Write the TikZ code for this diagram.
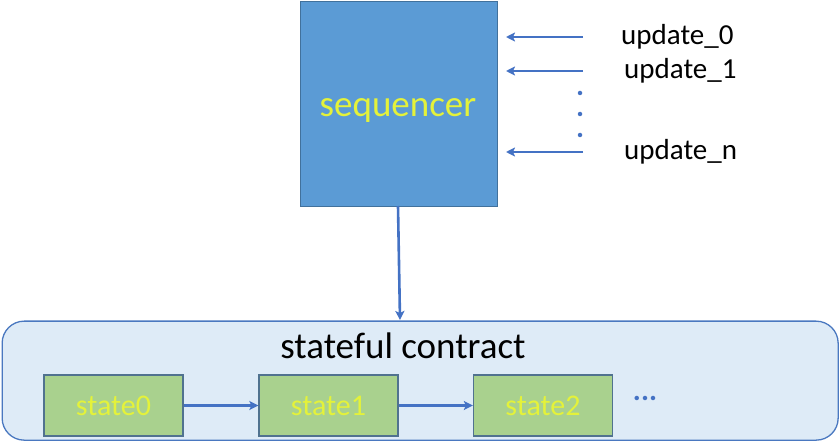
\documentclass[tikz,border=0pt]{standalone}
\usepackage{fontspec}
\setmainfont{Carlito}
\usetikzlibrary{arrows.meta}
\definecolor{seqfill}{HTML}{5B9BD5}
\definecolor{seqborder}{HTML}{41719C}
\definecolor{ytext}{RGB}{228,242,58}
\definecolor{arrowblue}{HTML}{4472C4}
\definecolor{contfill}{HTML}{DEEBF7}
\definecolor{contborder}{HTML}{4A78C0}
\definecolor{stfill}{HTML}{A9D18E}
\definecolor{stborder}{HTML}{50728F}
\tikzset{
  seqbox/.style={draw=seqborder, fill=seqfill, line width=1.4pt},
  statebox/.style={draw=stborder, fill=stfill, line width=1.3pt, minimum width=139pt, minimum height=61pt, inner sep=0pt, text=ytext, font=\fontsize{30}{36}\selectfont},
  conn/.style={draw=arrowblue, line width=2.6pt, -{Stealth[length=9pt,width=9pt,inset=2pt]}},
  updlabel/.style={font=\fontsize{29}{34}\selectfont, text=black, inner sep=0pt},
  bluedot/.style={circle, fill=arrowblue, inner sep=0pt, minimum size=4.5pt}
}
\begin{document}
\begin{tikzpicture}[x=1pt,y=-1pt]
\useasboundingbox (0,0) rectangle (840,443);
% sequencer
\node[seqbox, minimum width=197pt, minimum height=205pt, inner sep=0pt, anchor=north west] (seq) at (300,0.7) {};
\node[text=ytext, font=\fontsize{37}{44}\selectfont] (seqt) at (398,110) {sequencer};
% update arrows
\coordinate (u0s) at (583,37);
\coordinate (u0e) at (506,37);
\coordinate (u1s) at (583,71);
\coordinate (u1e) at (506,71);
\coordinate (uns) at (583,152);
\coordinate (une) at (506,152);
\draw[conn] (u0s) -- (u0e);
\draw[conn] (u1s) -- (u1e);
\draw[conn] (uns) -- (une);
\node[bluedot] (d1) at (580,93) {};
\node[bluedot] (d2) at (580,114) {};
\node[bluedot] (d3) at (580,135) {};
\node[updlabel, anchor=west] (l0) at (621,37) {update\_0};
\node[updlabel, anchor=west] (l1) at (624,71) {update\_1};
\node[updlabel, anchor=west] (ln) at (624,152) {update\_n};
% container
\node[draw=contborder, fill=contfill, line width=1.3pt, rounded corners=22pt, minimum width=836pt, minimum height=119pt, inner sep=0pt, anchor=north west] (cont) at (1.5,320.5) {};
\node[font=\fontsize{37}{44}\selectfont, text=black] (ct) at (403,346) {stateful contract};
\coordinate (seqbot) at (398,206);
\draw[conn] (seqbot) -- (400,320);
% states
\node[statebox] (s0) at (113.5,405.5) {state0};
\node[statebox] (s1) at (328.5,405.5) {state1};
\node[statebox] (s2) at (543,405.5) {state2};
\draw[conn] (s0) -- (s1);
\draw[conn] (s1) -- (s2);
\node[font=\fontsize{30}{36}\selectfont\bfseries, text=arrowblue] (dots) at (645,398) {...};
\end{tikzpicture}
\end{document}
